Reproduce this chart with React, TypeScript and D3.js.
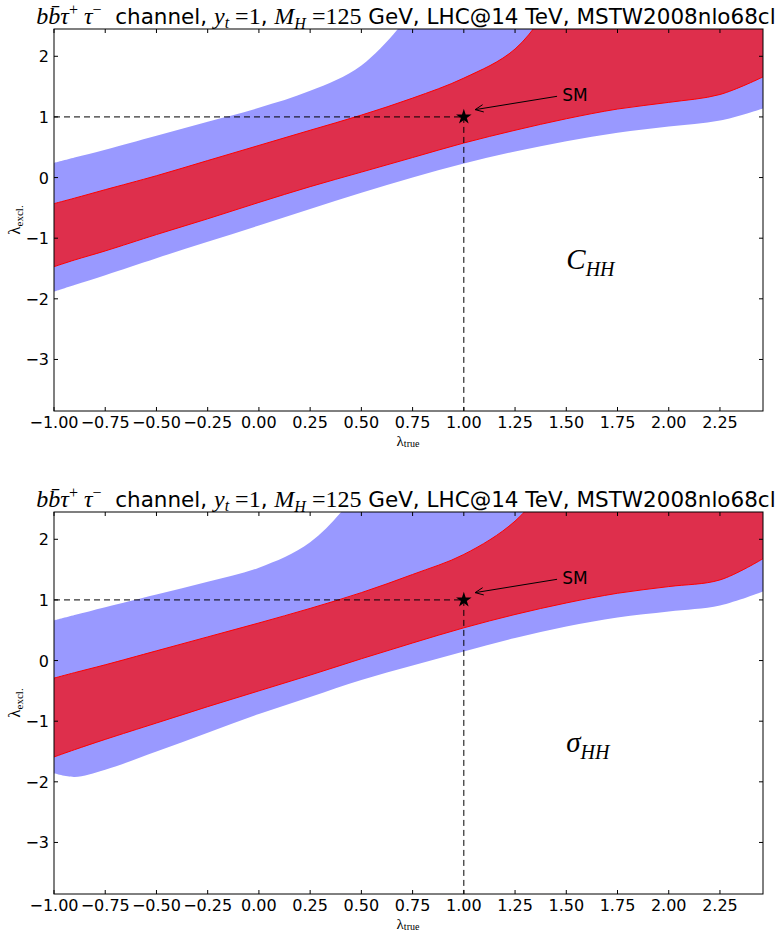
import React from 'react';
import * as d3 from 'd3';

// ---- data ----
const LAMBDA = [-1, -0.9, -0.75, -0.5, -0.25, 0, 0.25, 0.5, 0.75, 1, 1.25, 1.5, 1.75, 2, 2.25, 2.46];

// Panel 1: C_HH
const C_BLUE_UP = [0.24, 0.33, 0.46, 0.69, 0.92, 1.15, 1.43, 1.85, 2.75, 4.0, 5.0, 6.0, 7.0, 8.0, 9.0, 10.0];
const C_BLUE_LO = [-1.88, -1.77, -1.61, -1.33, -1.06, -0.79, -0.52, -0.25, 0.0, 0.23, 0.43, 0.6, 0.74, 0.84, 0.94, 1.14];
const C_RED_UP = [-0.43, -0.34, -0.2, 0.03, 0.28, 0.53, 0.78, 1.03, 1.31, 1.64, 2.12, 3.2, 4.2, 5.2, 6.2, 7.0];
const C_RED_LO = [-1.47, -1.36, -1.21, -0.94, -0.68, -0.41, -0.15, 0.09, 0.33, 0.57, 0.78, 0.97, 1.13, 1.24, 1.37, 1.66];

// Panel 2: sigma_HH
const S_BLUE_UP = [0.66, 0.75, 0.88, 1.09, 1.3, 1.53, 1.95, 2.85, 4.0, 5.0, 6.0, 7.0, 8.0, 9.0, 10.0, 11.0];
const S_BLUE_LO = [-1.86, -1.92, -1.8, -1.5, -1.19, -0.88, -0.6, -0.32, -0.08, 0.15, 0.37, 0.56, 0.71, 0.81, 0.91, 1.14];
const S_RED_UP = [-0.29, -0.2, -0.07, 0.16, 0.39, 0.62, 0.86, 1.12, 1.42, 1.75, 2.3, 3.3, 4.3, 5.3, 6.3, 7.0];
const S_RED_LO = [-1.59, -1.47, -1.3, -1.03, -0.76, -0.5, -0.24, 0.03, 0.29, 0.54, 0.76, 0.95, 1.11, 1.22, 1.33, 1.68];

const X_TICKS = [-1, -0.75, -0.5, -0.25, 0, 0.25, 0.5, 0.75, 1, 1.25, 1.5, 1.75, 2, 2.25];
const Y_TICKS = [-3, -2, -1, 0, 1, 2];
const X_DOMAIN = [-1, 2.46];
const Y_DOMAIN = [-3.85, 2.45];
const SM_POINT = [1, 1];
const SM_TEXT_POS = [1.48, 1.27];
const SM_ARROW_FROM = [1.455, 1.34];
const SM_ARROW_TO = [1.055, 1.12];
const PANEL_LABEL_POS = [1.5, -1.5];

const W = 783;
const H = 933;
const LEFT = 54;
const RIGHT = 763;

const SANS = 'DejaVu Sans';
const SERIF = 'Liberation Serif';
const BLUE = '#9999ff';
const RED_FILL = '#de2f4c';

const fmtTick = (v: number) => (v < 0 ? '\u2212' : '') + Math.abs(v).toFixed(2);
const fmtY = (v: number) => (v < 0 ? '\u2212' : '') + Math.abs(v).toString();

function Title({ y }: { y: number }) {
  return (
    <text x={406} y={y} textAnchor="middle" fontSize={21.5} fontFamily={SANS} style={{ whiteSpace: 'pre' }}>
      <tspan fontFamily={SERIF} fontStyle="italic" fontSize={24}>b{'b\u0304'}τ</tspan>
      <tspan fontFamily={SERIF} fontSize={16} dy={-9}>+</tspan>
      <tspan fontFamily={SERIF} fontStyle="italic" fontSize={24} dy={9}> τ</tspan>
      <tspan fontFamily={SERIF} fontSize={16} dy={-9}>−</tspan>
      <tspan dy={9}>  channel, </tspan>
      <tspan fontFamily={SERIF} fontStyle="italic" fontSize={24}>y</tspan>
      <tspan fontFamily={SERIF} fontStyle="italic" fontSize={16} dy={4}>t</tspan>
      <tspan fontFamily={SERIF} fontSize={24} dy={-4}> =1</tspan>
      <tspan>, </tspan>
      <tspan fontFamily={SERIF} fontStyle="italic" fontSize={24}>M</tspan>
      <tspan fontFamily={SERIF} fontStyle="italic" fontSize={16} dy={5}>H</tspan>
      <tspan fontFamily={SERIF} fontSize={24} dy={-5}> =125</tspan>
      <tspan> GeV, LHC@14 TeV, MSTW2008nlo68cl</tspan>
    </text>
  );
}

type PanelProps = {
  id: string;
  top: number;
  bottom: number;
  blueUp: number[];
  blueLo: number[];
  redUp: number[];
  redLo: number[];
  label: string;
  labelSub: string;
};

function Panel({ id, top, bottom, blueUp, blueLo, redUp, redLo, label, labelSub }: PanelProps) {
  const x = d3.scaleLinear().domain(X_DOMAIN).range([LEFT, RIGHT]);
  const y = d3.scaleLinear().domain(Y_DOMAIN).range([bottom, top]);
  const idx = LAMBDA.map((_, i) => i);
  const curve = d3.curveCatmullRom.alpha(0.5);

  const band = (lo: number[], up: number[]) =>
    d3
      .area<number>()
      .x((i) => x(LAMBDA[i]))
      .y0((i) => y(lo[i]))
      .y1((i) => y(up[i]))
      .curve(curve)(idx) as string;
  const edge = (vals: number[]) =>
    d3
      .line<number>()
      .x((i) => x(LAMBDA[i]))
      .y((i) => y(vals[i]))
      .curve(curve)(idx) as string;

  const sx = x(SM_POINT[0]);
  const sy = y(SM_POINT[1]);
  const star = d3.symbol(d3.symbolStar, 75)() as string;

  const ax0 = x(SM_ARROW_FROM[0]);
  const ay0 = y(SM_ARROW_FROM[1]);
  const ax1 = x(SM_ARROW_TO[0]);
  const ay1 = y(SM_ARROW_TO[1]);
  const ang = Math.atan2(ay0 - ay1, ax0 - ax1);
  const hl = 9;
  const ha = 0.42;
  const w1 = [ax1 + hl * Math.cos(ang + ha), ay1 + hl * Math.sin(ang + ha)];
  const w2 = [ax1 + hl * Math.cos(ang - ha), ay1 + hl * Math.sin(ang - ha)];

  const midY = (top + bottom) / 2;

  return (
    <g>
      <defs>
        <clipPath id={id}>
          <rect x={LEFT} y={top} width={RIGHT - LEFT} height={bottom - top} />
        </clipPath>
      </defs>
      <g clipPath={`url(#${id})`}>
        <path d={band(blueLo, blueUp)} fill={BLUE} stroke="none" />
        <path d={band(redLo, redUp)} fill={RED_FILL} stroke="none" />
        <path d={edge(redUp)} fill="none" stroke="#ff0000" strokeWidth={1} />
        <path d={edge(redLo)} fill="none" stroke="#ff0000" strokeWidth={1} />
      </g>
      {/* SM guide lines */}
      <line x1={LEFT} x2={sx} y1={sy} y2={sy} stroke="#000" strokeWidth={1} strokeDasharray="6,4" />
      <line x1={sx} x2={sx} y1={sy} y2={bottom} stroke="#000" strokeWidth={1} strokeDasharray="6,4" />
      <path d={star} transform={`translate(${sx},${sy})`} fill="#000" />
      {/* annotation */}
      <line x1={ax0} y1={ay0} x2={ax1} y2={ay1} stroke="#000" strokeWidth={1} />
      <path d={`M${w1[0]},${w1[1]}L${ax1},${ay1}L${w2[0]},${w2[1]}`} fill="none" stroke="#000" strokeWidth={1} />
      <text x={x(SM_TEXT_POS[0])} y={y(SM_TEXT_POS[1])} fontFamily={SANS} fontSize={17}>SM</text>
      {/* panel label */}
      <text x={x(PANEL_LABEL_POS[0])} y={y(PANEL_LABEL_POS[1])} fontFamily={SERIF} fontStyle="italic" fontSize={29}>
        {label}
        <tspan fontSize={20} dy={7}>{labelSub}</tspan>
      </text>
      {/* frame */}
      <rect x={LEFT} y={top} width={RIGHT - LEFT} height={bottom - top} fill="none" stroke="#000" strokeWidth={1} />
      {/* ticks */}
      {X_TICKS.map((t) => (
        <g key={'x' + t}>
          <line x1={x(t)} x2={x(t)} y1={bottom} y2={bottom - 4} stroke="#000" />
          <line x1={x(t)} x2={x(t)} y1={top} y2={top + 4} stroke="#000" />
          <text x={x(t)} y={bottom + 17} textAnchor="middle" fontFamily={SANS} fontSize={16}>
            {fmtTick(t)}
          </text>
        </g>
      ))}
      {Y_TICKS.map((t) => (
        <g key={'y' + t}>
          <line x1={LEFT} x2={LEFT + 4} y1={y(t)} y2={y(t)} stroke="#000" />
          <line x1={RIGHT} x2={RIGHT - 4} y1={y(t)} y2={y(t)} stroke="#000" />
          <text x={LEFT - 5} y={y(t) + 6} textAnchor="end" fontFamily={SANS} fontSize={16}>
            {fmtY(t)}
          </text>
        </g>
      ))}
      {/* axis labels */}
      <text x={408} y={bottom + 35} textAnchor="middle" fontFamily={SERIF} fontSize={15}>
        λ<tspan fontSize={10} dy={1}>true</tspan>
      </text>
      <text transform={`translate(20,${midY}) rotate(-90)`} textAnchor="middle" fontFamily={SERIF} fontSize={17}>
        λ<tspan fontSize={11} dy={3}>excl.</tspan>
      </text>
    </g>
  );
}

export default function App() {
  return (
    <svg
      width={W}
      height={H}
      viewBox={`0 0 ${W} ${H}`}
      style={{ position: 'absolute', left: 0, top: 0, background: '#fff' }}
    >
      <rect x={0} y={0} width={W} height={H} fill="#fff" />
      <Title y={24} />
      <Panel id="clip1" top={29} bottom={411} blueUp={C_BLUE_UP} blueLo={C_BLUE_LO} redUp={C_RED_UP} redLo={C_RED_LO} label="C" labelSub="HH" />
      <Title y={507} />
      <Panel id="clip2" top={512} bottom={894} blueUp={S_BLUE_UP} blueLo={S_BLUE_LO} redUp={S_RED_UP} redLo={S_RED_LO} label="σ" labelSub="HH" />
    </svg>
  );
}
